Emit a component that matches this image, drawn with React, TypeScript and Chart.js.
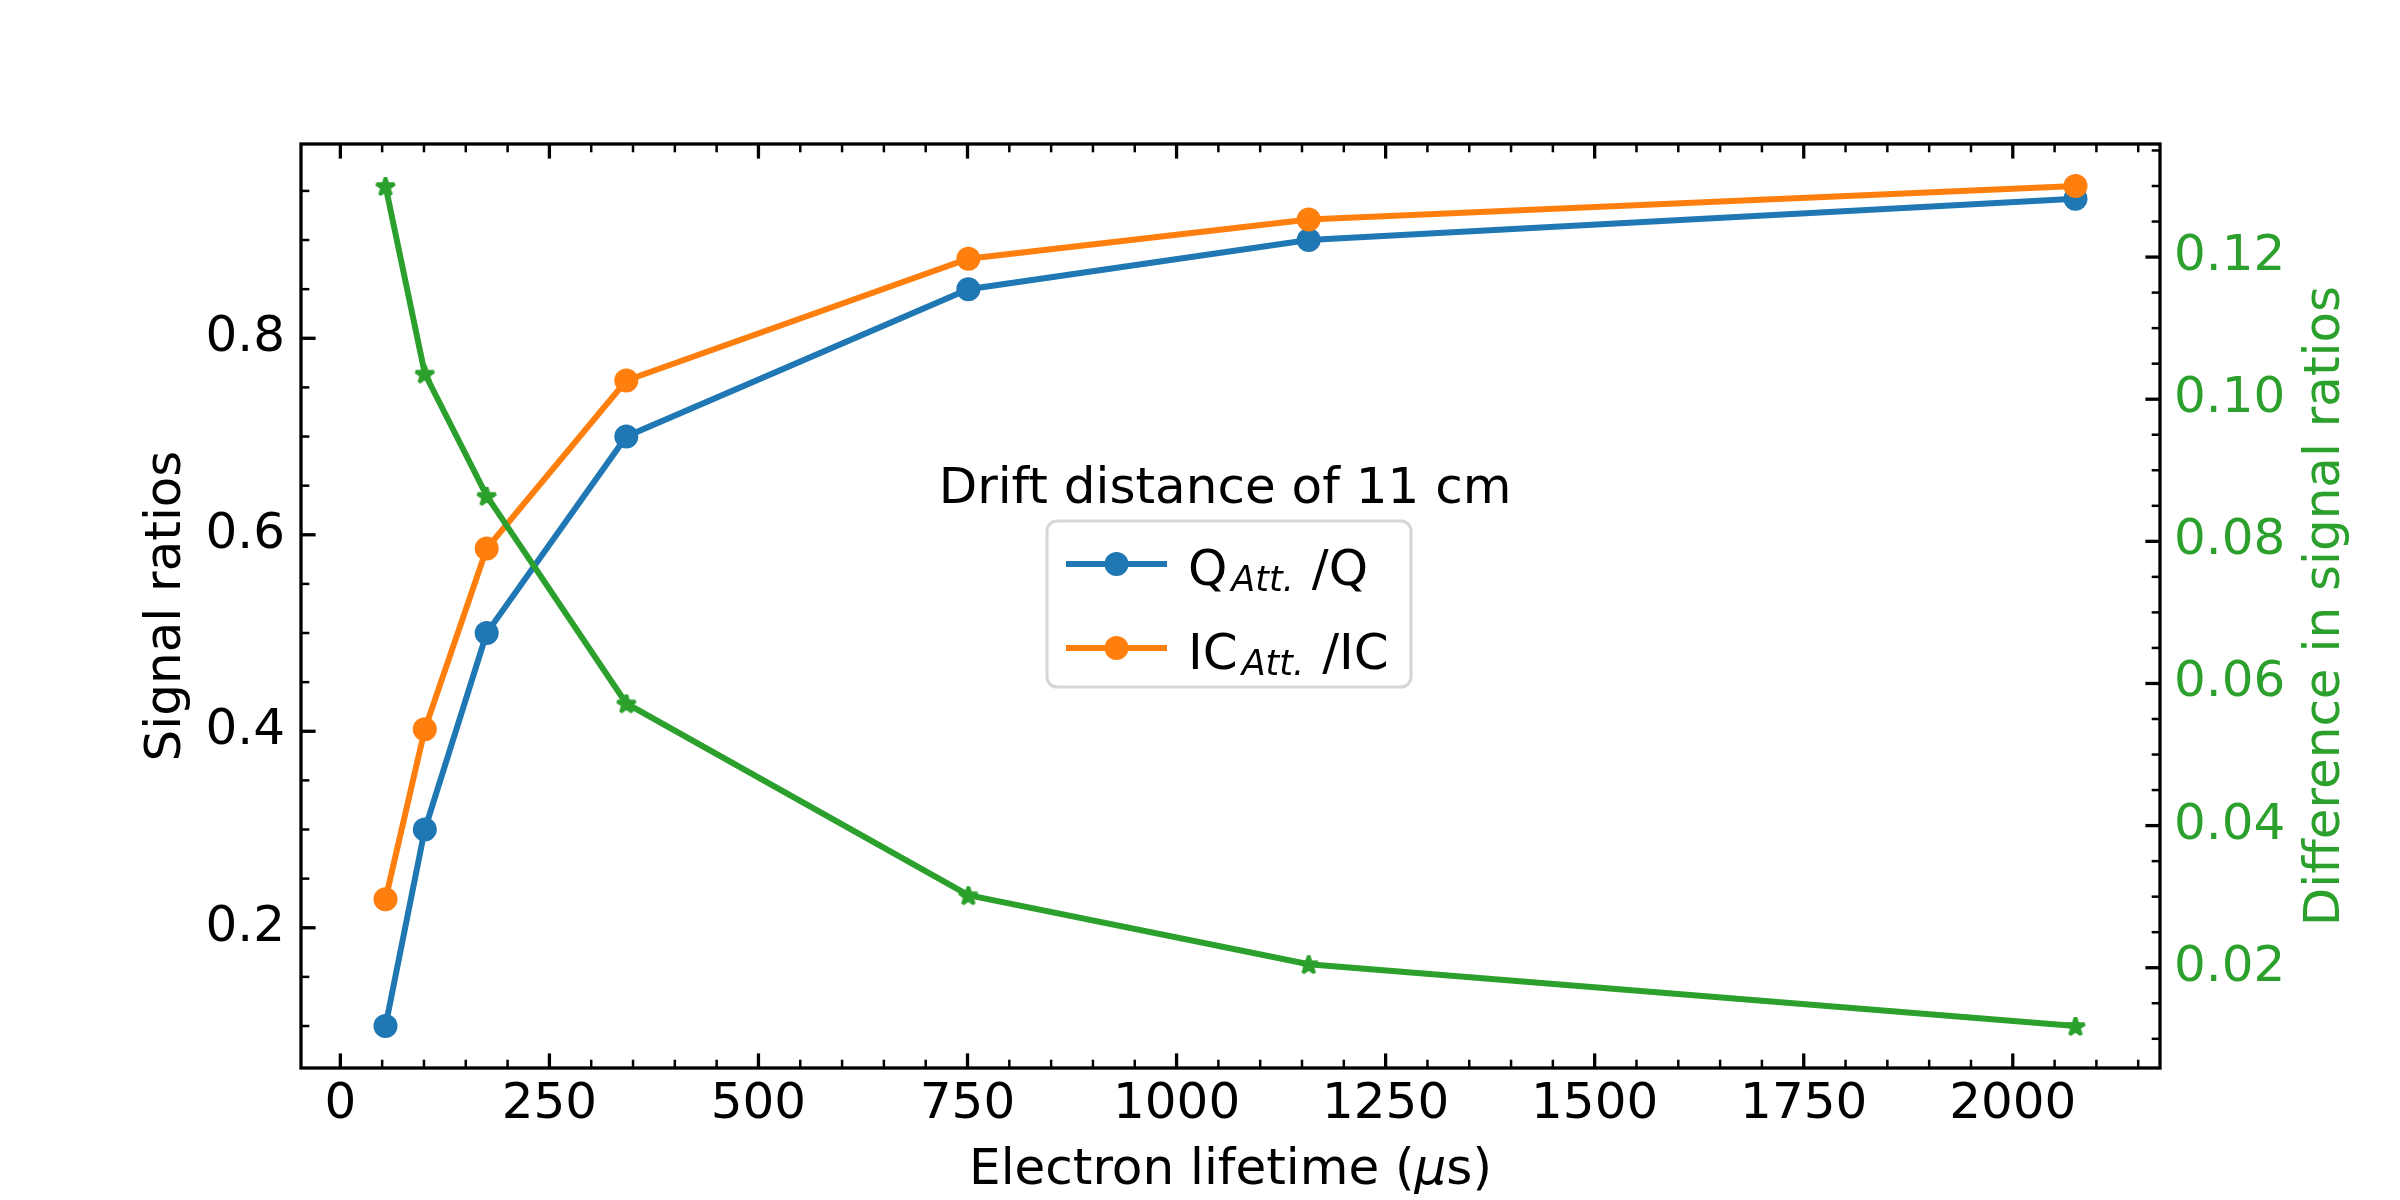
import React, { useEffect, useRef } from 'react';
import { Chart, registerables } from 'chart.js';

Chart.register(...registerables);

// electron lifetime (us) and the three measured ratios
const lifetimes = [54, 101, 175, 342, 751, 1158, 2075];
const qRatios = [0.1, 0.3, 0.5, 0.7, 0.85, 0.9, 0.942];
const icRatios = [0.229, 0.402, 0.586, 0.757, 0.881, 0.921, 0.955];
const diffRatios = [0.130, 0.1036, 0.0864, 0.0572, 0.0302, 0.0205, 0.0118];

const xTicks = [0, 250, 500, 750, 1000, 1250, 1500, 1750, 2000];
const xTickLabels = ['0', '250', '500', '750', '1000', '1250', '1500', '1750', '2000'];
const leftTicks = [0.2, 0.4, 0.6, 0.8];
const leftTickLabels = ['0.2', '0.4', '0.6', '0.8'];
const rightTicks = [0.02, 0.04, 0.06, 0.08, 0.1, 0.12];
const rightTickLabels = ['0.02', '0.04', '0.06', '0.08', '0.10', '0.12'];

const seriesNames = ['Q', 'IC'];
const subscript = 'Att.';
const legendTitle = 'Drift distance of 11 cm';
const xTitle = ['Electron lifetime (', 'μ', 's)'];
const yTitle = 'Signal ratios';
const y1Title = 'Difference in signal ratios';

const BLUE = '#1f77b4';
const ORANGE = '#ff7f0e';
const GREEN = '#2ca02c';
const FONT = '"DejaVu Sans"';
const FS = 50;

// matplotlib style 5% margins
const padRange = (vals: number[]) => {
  const lo = Math.min(...vals);
  const hi = Math.max(...vals);
  const m = (hi - lo) * 0.05;
  return [lo - m, hi + m];
};

function makeStar(color: string, R: number, r: number) {
  const c = document.createElement('canvas');
  const size = 30;
  c.width = size;
  c.height = size;
  const g = c.getContext('2d')!;
  g.translate(size / 2, size / 2 + 1);
  g.beginPath();
  for (let i = 0; i < 10; i++) {
    const ang = -Math.PI / 2 + (i * Math.PI) / 5;
    const rad = i % 2 === 0 ? R : r;
    g.lineTo(rad * Math.cos(ang), rad * Math.sin(ang));
  }
  g.closePath();
  g.fillStyle = color;
  g.fill();
  g.lineJoin = 'bevel';
  g.lineWidth = 3.5;
  g.strokeStyle = color;
  g.stroke();
  return c;
}

const framePlugin = {
  id: 'frame',
  afterDatasetsDraw(chart: any) {
    const { ctx, chartArea: a, scales } = chart;
    ctx.save();
    ctx.strokeStyle = '#000';
    ctx.lineCap = 'butt';

    const line = (x1: number, y1: number, x2: number, y2: number, w: number) => {
      ctx.lineWidth = w;
      ctx.beginPath();
      ctx.moveTo(x1, y1);
      ctx.lineTo(x2, y2);
      ctx.stroke();
    };
    const MAJ = 14.6, MIN = 8.3, WMAJ = 3.3, WMIN = 2.5;

    // x ticks, bottom and top, pointing inwards
    const xs = scales.x;
    xTicks.forEach((v) => {
      const p = xs.getPixelForValue(v);
      line(p, a.bottom, p, a.bottom - MAJ, WMAJ);
      line(p, a.top, p, a.top + MAJ, WMAJ);
    });
    for (let k = Math.ceil(xs.min / 50); k * 50 <= xs.max; k++) {
      if (k % 5 === 0) continue;
      const p = xs.getPixelForValue(k * 50);
      line(p, a.bottom, p, a.bottom - MIN, WMIN);
      line(p, a.top, p, a.top + MIN, WMIN);
    }

    const ys = scales.y;
    leftTicks.forEach((v) => {
      const p = ys.getPixelForValue(v);
      line(a.left, p, a.left + MAJ, p, WMAJ);
    });
    for (let k = Math.ceil(ys.min / 0.05 - 1e-6); k * 0.05 <= ys.max; k++) {
      if (k % 4 === 0) continue;
      const p = ys.getPixelForValue(k * 0.05);
      line(a.left, p, a.left + MIN, p, WMIN);
    }

    const y1 = scales.y1;
    rightTicks.forEach((v) => {
      const p = y1.getPixelForValue(v);
      line(a.right, p, a.right - MAJ, p, WMAJ);
    });
    for (let k = Math.ceil(y1.min / 0.005 - 1e-6); k * 0.005 <= y1.max; k++) {
      if (k % 4 === 0) continue;
      const p = y1.getPixelForValue(k * 0.005);
      line(a.right, p, a.right - MIN, p, WMIN);
    }

    ctx.lineWidth = 3.3;
    ctx.lineJoin = 'miter';
    ctx.strokeRect(a.left, a.top, a.right - a.left, a.bottom - a.top);
    ctx.restore();
  },
  afterDraw(chart: any) {
    const { ctx, chartArea: a } = chart;
    const mid = (a.top + a.bottom) / 2;
    ctx.save();
    ctx.textBaseline = 'alphabetic';

    // axis titles
    ctx.font = `${FS}px ${FONT}`;
    ctx.textAlign = 'center';
    ctx.fillStyle = '#000';
    ctx.save();
    ctx.translate(180, mid);
    ctx.rotate(-Math.PI / 2);
    ctx.fillText(yTitle, 0, 0);
    ctx.restore();

    ctx.fillStyle = GREEN;
    ctx.save();
    ctx.translate(2339, mid);
    ctx.rotate(-Math.PI / 2);
    ctx.fillText(y1Title, 0, 0);
    ctx.restore();

    ctx.fillStyle = '#000';
    ctx.textAlign = 'left';
    const fonts = [`${FS}px ${FONT}`, `italic ${FS}px ${FONT}`, `${FS}px ${FONT}`];
    const widths = xTitle.map((t, i) => {
      ctx.font = fonts[i];
      return ctx.measureText(t).width;
    });
    let tx = (a.left + a.right) / 2 - widths.reduce((s, w) => s + w, 0) / 2;
    xTitle.forEach((t, i) => {
      ctx.font = fonts[i];
      ctx.fillText(t, tx, 1184);
      tx += widths[i];
    });

    // legend
    const bx = 1047, by = 521, bw = 364, bh = 166, br = 10;
    ctx.beginPath();
    ctx.roundRect(bx, by, bw, bh, br);
    ctx.fillStyle = '#fff';
    ctx.fill();
    ctx.lineWidth = 3;
    ctx.strokeStyle = '#d6d6d6';
    ctx.stroke();

    ctx.font = `${FS}px ${FONT}`;
    ctx.textAlign = 'center';
    ctx.fillStyle = '#000';
    ctx.fillText(legendTitle, 1225, 503);

    const rowsY = [564, 648];
    const colors = [BLUE, ORANGE];
    ctx.textAlign = 'left';
    seriesNames.forEach((name, i) => {
      const y = rowsY[i];
      const base = y + 21;
      ctx.strokeStyle = colors[i];
      ctx.lineWidth = 6;
      ctx.beginPath();
      ctx.moveTo(1066, y);
      ctx.lineTo(1167, y);
      ctx.stroke();
      ctx.fillStyle = colors[i];
      ctx.beginPath();
      ctx.arc(1116.5, y, 12, 0, Math.PI * 2);
      ctx.fill();

      ctx.fillStyle = '#000';
      let x = 1188;
      ctx.font = `${FS}px ${FONT}`;
      ctx.fillText(name, x, base);
      x += ctx.measureText(name).width + 4;
      ctx.font = `italic 35px ${FONT}`;
      ctx.fillText(subscript, x, base + 6);
      x += ctx.measureText(subscript).width + 18;
      ctx.font = `${FS}px ${FONT}`;
      ctx.fillText('/' + name, x, base);
    });
    ctx.restore();
  },
};

export default function App() {
  const canvasRef = useRef<HTMLCanvasElement>(null);

  useEffect(() => {
    if (!canvasRef.current) return;

    const [xMin, xMax] = padRange(lifetimes);
    const [yMin, yMax] = padRange([...qRatios, ...icRatios]);
    const [y1Min, y1Max] = padRange(diffRatios);
    const star = makeStar(GREEN, 9.5, 3.63);

    Chart.defaults.font.family = FONT;
    Chart.defaults.font.size = FS;

    const chart = new Chart(canvasRef.current, {
      type: 'line',
      data: {
        datasets: [
          {
            label: 'Difference',
            data: lifetimes.map((x, i) => ({ x, y: diffRatios[i] })),
            yAxisID: 'y1',
            borderColor: GREEN,
            backgroundColor: GREEN,
            borderWidth: 6,
            pointStyle: star as any,
            pointRadius: 10,
            order: 0,
          },
          {
            label: `${seriesNames[1]}${subscript}/${seriesNames[1]}`,
            data: lifetimes.map((x, i) => ({ x, y: icRatios[i] })),
            yAxisID: 'y',
            borderColor: ORANGE,
            backgroundColor: ORANGE,
            pointBackgroundColor: ORANGE,
            pointBorderWidth: 0,
            borderWidth: 6,
            pointRadius: 12,
            order: 1,
          },
          {
            label: `${seriesNames[0]}${subscript}/${seriesNames[0]}`,
            data: lifetimes.map((x, i) => ({ x, y: qRatios[i] })),
            yAxisID: 'y',
            borderColor: BLUE,
            backgroundColor: BLUE,
            pointBackgroundColor: BLUE,
            pointBorderWidth: 0,
            borderWidth: 6,
            pointRadius: 12,
            order: 2,
          },
        ],
      },
      options: {
        responsive: false,
        animation: false,
        devicePixelRatio: 1,
        layout: { padding: { top: 144, left: 0, right: 0, bottom: 0 } },
        plugins: {
          legend: { display: false },
          tooltip: { enabled: false },
        },
        elements: { line: { tension: 0 } },
        scales: {
          x: {
            type: 'linear',
            position: 'bottom',
            min: xMin,
            max: xMax,
            bounds: 'data',
            grid: { display: false, drawTicks: false },
            border: { display: false },
            ticks: {
              padding: 7,
              color: '#000',
              autoSkip: false,
              maxRotation: 0,
              callback: (_v: any, i: number) => xTickLabels[i],
            },
            afterBuildTicks: (s: any) => {
              s.ticks = xTicks.map((value) => ({ value }));
            },
            afterFit: (s: any) => {
              s.height = 132;
            },
          },
          y: {
            type: 'linear',
            position: 'left',
            min: yMin,
            max: yMax,
            bounds: 'data',
            grid: { display: false, drawTicks: false },
            border: { display: false },
            ticks: {
              padding: 16,
              color: '#000',
              autoSkip: false,
              callback: (_v: any, i: number) => leftTickLabels[i],
            },
            afterBuildTicks: (s: any) => {
              s.ticks = leftTicks.map((value) => ({ value }));
            },
            afterFit: (s: any) => {
              s.width = 301;
            },
          },
          y1: {
            type: 'linear',
            position: 'right',
            min: y1Min,
            max: y1Max,
            bounds: 'data',
            grid: { display: false, drawTicks: false },
            border: { display: false },
            ticks: {
              padding: 14,
              color: GREEN,
              autoSkip: false,
              callback: (_v: any, i: number) => rightTickLabels[i],
            },
            afterBuildTicks: (s: any) => {
              s.ticks = rightTicks.map((value) => ({ value }));
            },
            afterFit: (s: any) => {
              s.width = 240;
            },
          },
        },
      },
      plugins: [framePlugin],
    });

    return () => {
      chart.destroy();
    };
  }, []);

  return (
    <div style={{ position: 'absolute', left: 0, top: 0, width: 2400, height: 1200, background: '#fff' }}>
      <canvas ref={canvasRef} width={2400} height={1200} style={{ display: 'block' }} />
    </div>
  );
}
